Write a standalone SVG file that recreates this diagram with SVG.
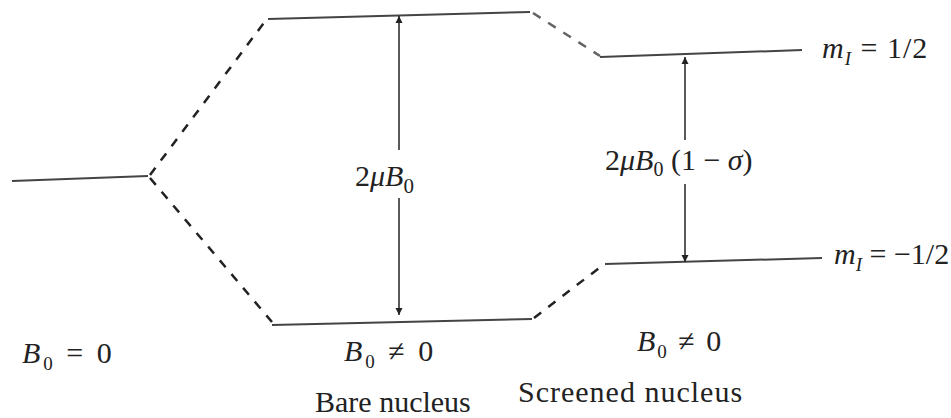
<svg xmlns="http://www.w3.org/2000/svg" width="951" height="418" viewBox="0 0 951 418">
<style>
.lvl{stroke:#444;stroke-width:2;fill:none}
.dash{stroke:#222;stroke-width:2.5;fill:none;stroke-dasharray:9,9}
.arr{stroke:#222;stroke-width:1.5;fill:none;marker-start:url(#ah);marker-end:url(#ah)}
text{font-family:"Liberation Serif","Times New Roman",serif;fill:#222;font-size:30px}
.i{font-style:italic}
.sub{font-size:19px}
.bg{fill:#fff}
</style>
<defs>
<marker id="ah" viewBox="0 0 10 10" refX="10" refY="5" markerWidth="7" markerHeight="10" markerUnits="userSpaceOnUse" orient="auto-start-reverse">
<path d="M0,0 L10,5 L0,10 Z" fill="#222"/>
</marker>
</defs>
<rect width="951" height="418" fill="#fff"/>
<g id="levels">
<path class="lvl" d="M12,181 L148,176"/>
<path class="lvl" d="M268,19 L530,12"/>
<path class="lvl" d="M600,57 L802,50"/>
<path class="lvl" d="M272,325 L532,319"/>
<path class="lvl" d="M605,264 L822,258"/>
</g>
<g id="connectors">
<path class="dash" d="M150,175 L266,20"/>
<path class="dash" d="M150,178 L272,322"/>
<path class="dash" d="M533,13 L600,56" stroke-opacity="0.7"/>
<path class="dash" d="M534,318 L603,265"/>
<path class="arr" d="M399,315 L399,16"/>
<path class="arr" d="M685,262 L685,57"/>
</g>
<g id="labels">
<rect class="bg" x="352" y="150" width="96" height="48"/>
<text x="355" y="186" font-size="34"><tspan>2</tspan><tspan class="i">μB</tspan><tspan font-size="21" dy="7">0</tspan></text>
<rect class="bg" x="602" y="140" width="166" height="44"/>
<text x="605" y="170" font-size="32"><tspan>2</tspan><tspan class="i">μB</tspan><tspan font-size="20" dy="6">0</tspan><tspan dy="-6"> (1 − </tspan><tspan class="i">σ</tspan><tspan>)</tspan></text>
<text x="822" y="58" font-size="28" letter-spacing="1"><tspan class="i">m</tspan><tspan class="i sub" dy="7">I</tspan><tspan dy="-7"> =  1/2</tspan></text>
<text x="834" y="264" font-size="28"><tspan class="i">m</tspan><tspan class="i sub" dy="7">I</tspan><tspan dy="-7"> = −1/2</tspan></text>
<text x="22" y="363" letter-spacing="3"><tspan class="i">B</tspan><tspan class="sub" dy="7">0</tspan><tspan dy="-7"> = 0</tspan></text>
<text x="344" y="361" letter-spacing="3"><tspan class="i">B</tspan><tspan class="sub" dy="7">0</tspan><tspan dy="-7"> ≠ 0</tspan></text>
<text x="637" y="351" letter-spacing="2"><tspan class="i">B</tspan><tspan class="sub" dy="7">0</tspan><tspan dy="-7"> ≠ 0</tspan></text>
<text x="315" y="412" font-size="28">Bare nucleus</text>
<text x="518" y="402" font-size="28" letter-spacing="1">Screened nucleus</text>
</g>
</svg>
